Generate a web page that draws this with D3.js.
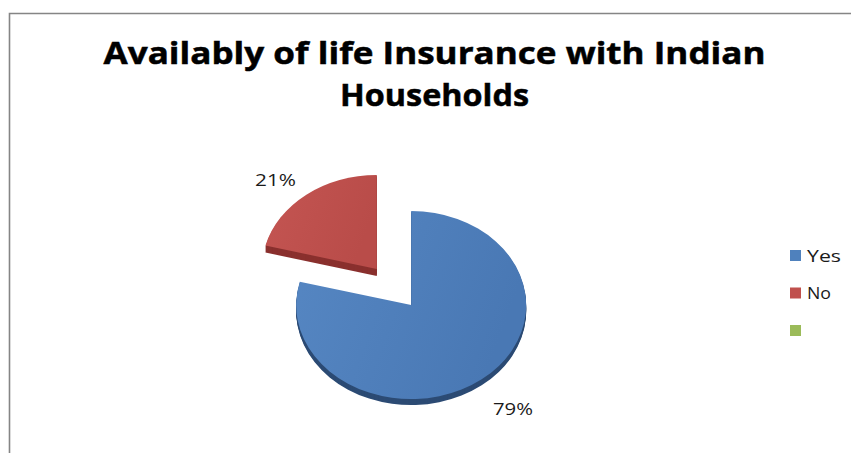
<!DOCTYPE html>
<html>
<head>
<meta charset="utf-8">
<script src="https://cdn.jsdelivr.net/npm/d3@7"></script>
<style>
  html, body { margin: 0; padding: 0; background: #fff; }
  svg { display: block; }
</style>
</head>
<body>
<svg id="chart" width="851" height="453"></svg>
<script>
// Survey answers: does the household hold life insurance?
const categories = ["Yes", "No", ""];
const shares = [79, 21, 0];
const sliceColors = ["#4F81BD", "#C0504D", "#9BBB59"];
const titleLines = ["Availably of life Insurance with Indian", "Households"];

const W = 851, H = 453;
const svg = d3.select("#chart");
const defs = svg.append("defs");

// Chart frame (left and top edges visible)
svg.append("path")
  .attr("d", `M9.5,${H} L9.5,13.5 L${W},13.5`)
  .attr("fill", "none")
  .attr("stroke", "#858585")
  .attr("stroke-width", 1.6);

// Title
const titleG = svg.append("g")
  .attr("font-family", "'Open Sans', sans-serif")
  .attr("font-weight", "bold")
  .attr("font-size", 31)
  .attr("fill", "#000")
  .attr("text-anchor", "middle");
const titleWidths = [662, 189];
titleLines.forEach((t, i) => {
  titleG.append("text")
    .attr("x", 434.5)
    .attr("y", 63.5 + i * 42)
    .attr("textLength", titleWidths[i])
    .attr("lengthAdjust", "spacingAndGlyphs")
    .attr("stroke", "#000")
    .attr("stroke-width", 0.5)
    .text(t);
});

// Tilted, exploded pie
const pieCenter = [394, 287];
const rx = 115, ry = 94, tilt = ry / rx, explode = 28;

const pie = d3.pie().sort(null).value(d => d.v).startAngle(0).endAngle(2 * Math.PI);
const data = categories.map((c, i) => ({ c, v: shares[i], color: sliceColors[i] }));
const arcs = pie(data).filter(a => a.data.v > 0);
const arcGen = d3.arc().innerRadius(0).outerRadius(rx);

const shades = {
  "Yes": { top: ["#5687c3", "#4978b4"], side: "#2c4b74", depth: 6 },
  "No":  { top: ["#c45552", "#b94c49"], side: "#8a302e", depth: 7 }
};

arcs.forEach((a, i) => {
  const mid = (a.startAngle + a.endAngle) / 2;
  const cx = pieCenter[0] + explode * Math.sin(mid);
  const cy = pieCenter[1] - explode * Math.cos(mid) * tilt;
  const sh = shades[a.data.c];

  const gid = "grad" + i;
  const g = defs.append("linearGradient").attr("id", gid)
    .attr("x1", "0%").attr("y1", "0%").attr("x2", "100%").attr("y2", "30%");
  g.append("stop").attr("offset", "0%").attr("stop-color", sh.top[0]);
  g.append("stop").attr("offset", "100%").attr("stop-color", sh.top[1]);

  const sg = svg.append("g").attr("class", "slice");
  // extruded side
  for (let k = sh.depth; k >= 1; k--) {
    sg.append("path")
      .attr("transform", `translate(${cx},${cy + k}) scale(1,${tilt})`)
      .attr("d", arcGen(a))
      .attr("fill", sh.side);
  }
  // top face
  sg.append("path")
    .attr("transform", `translate(${cx},${cy}) scale(1,${tilt})`)
    .attr("d", arcGen(a))
    .attr("fill", `url(#${gid})`);
});

// Percentage labels
const labelLayout = {
  "Yes": { x: 513, y: 415, w: 40 },
  "No":  { x: 275.5, y: 186, w: 41 }
};
arcs.forEach(a => {
  const L = labelLayout[a.data.c];
  svg.append("text")
    .attr("x", L.x).attr("y", L.y)
    .attr("text-anchor", "middle")
    .attr("font-family", "'Open Sans', sans-serif")
    .attr("font-size", 15.5)
    .attr("fill", "#1a1a1a")
    .attr("textLength", L.w)
    .attr("lengthAdjust", "spacingAndGlyphs")
    .text(a.data.v + "%");
});

// Legend
const legend = svg.append("g").attr("transform", "translate(790,250)");
const legendWidths = [34, 24, 0];
categories.forEach((c, i) => {
  const row = legend.append("g").attr("transform", `translate(0,${i * 37.5})`);
  row.append("rect").attr("width", 11).attr("height", 11).attr("fill", sliceColors[i]);
  if (c) {
    row.append("text")
      .attr("x", 17).attr("y", 11.5)
      .attr("font-family", "'Open Sans', sans-serif")
      .attr("font-size", 16.5)
      .attr("fill", "#1a1a1a")
      .attr("textLength", legendWidths[i])
      .attr("lengthAdjust", "spacingAndGlyphs")
      .text(c);
  }
});
</script>
</body>
</html>
